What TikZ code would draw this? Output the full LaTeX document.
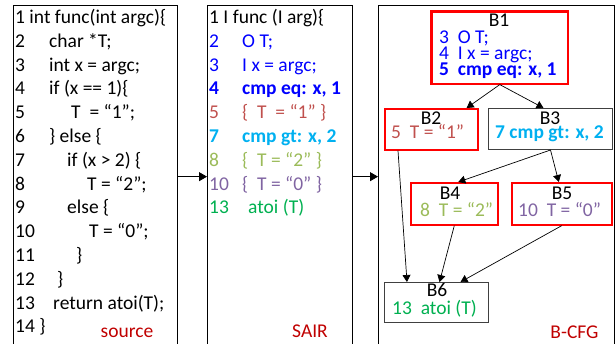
\documentclass[tikz,border=0pt]{standalone}
\usepackage{fontspec}
\setmainfont{Carlito}
\usetikzlibrary{arrows.meta,calc}
\definecolor{cblue}{RGB}{0,0,255}
\definecolor{cred}{RGB}{255,0,0}
\definecolor{cbrown}{RGB}{192,80,77}
\definecolor{ccyan}{RGB}{0,176,240}
\definecolor{colive}{RGB}{155,187,89}
\definecolor{cpurple}{RGB}{128,100,162}
\definecolor{cgreen}{RGB}{0,176,80}
\definecolor{cdred}{RGB}{192,0,0}
\begin{document}
\begin{tikzpicture}[x=1pt,y=-1pt,
  font=\fontsize{19.5}{23}\selectfont,
  txt/.style={inner sep=0pt, anchor=base west},
  ttl/.style={inner sep=0pt, anchor=base},
  panel/.style={draw=black, line width=1.3pt, anchor=north west, inner sep=0pt},
  blk/.style={draw=cred, line width=1.6pt, anchor=north west, inner sep=0pt},
  blkk/.style={draw=black!75, line width=1pt, anchor=north west, inner sep=0pt},
  redframe/.style={draw=cred, line width=1.6pt},
  arr/.style={-{Triangle[length=8pt,width=9pt]}, line width=0.9pt},
  carr/.style={-{Triangle[length=7pt,width=8pt]}, line width=0.7pt}]
\useasboundingbox (0,0) rectangle (616,343);

% panels
\node[panel, minimum width=164pt, minimum height=342pt] (src) at (13,5) {};
\node[panel, minimum width=145pt, minimum height=342pt] (sair) at (207,5) {};
\node[panel, minimum width=236pt, minimum height=342pt] (cfg) at (378,5) {};
\draw[arr] (src.east) -- (sair.west);
\draw[arr] (sair.east) -- (cfg.west);

% B-CFG blocks
\node[blk, minimum width=136pt, minimum height=72pt] (B1) at (431,11) {};
\node[blk, minimum width=93pt, minimum height=41pt] (B2) at (384,108) {};
\node[blkk, minimum width=124pt, minimum height=41pt] (B3) at (488,108) {};
\node[blk, minimum width=87pt, minimum height=42pt] (B4) at (410,182) {};
\node[blk, minimum width=100pt, minimum height=42pt] (B5) at (511,182) {};
\node[blkk, minimum width=104pt, minimum height=40pt] (B6) at (384,282) {};
\draw[redframe] (B1.north west) rectangle (B1.south east);

% CFG edges
\draw[carr] (B1.south) -- ([xshift=-12pt]B2.north east);
\draw[carr] (B1.south) -- ([xshift=-7pt]B3.north);
\draw[carr] (B3.south) -- ([xshift=4pt]B4.north);
\draw[carr] (B3.south) -- ([xshift=-3pt]B5.north);
\draw[carr] ([xshift=14pt]B2.south west) -- ([xshift=23pt]B6.north west);
\draw[carr] (B4.south) -- ([xshift=3pt]B6.north);
\draw[carr] (B5.south) -- ([xshift=24pt]B6.north);

% source code
\node[txt] (s1) at (15,23.5) {1 int func(int argc)\{};
\node[txt] (s2n) at (15,47.3) {2};   \node[txt] (s2) at (49,47.3) {char *T;};
\node[txt] (s3n) at (15,71.1) {3};   \node[txt] (s3) at (49,71.1) {int x = argc;};
\node[txt] (s4n) at (15,94.9) {4};   \node[txt] (s4) at (49,94.9) {if (x == 1)\{};
\node[txt] (s5n) at (15,118.7) {5};  \node[txt] (s5) at (71,118.7) {T~~= “1”;};
\node[txt] (s6n) at (15,142.5) {6};  \node[txt] (s6) at (49,142.5) {\} else \{};
\node[txt] (s7n) at (15,166.3) {7};  \node[txt] (s7) at (67,166.3) {if (x > 2) \{};
\node[txt] (s8n) at (15,190.1) {8};  \node[txt] (s8) at (87,190.1) {T = “2”;};
\node[txt] (s9n) at (15,213.9) {9};  \node[txt] (s9) at (67,213.9) {else \{};
\node[txt] (s10n) at (15,237.7) {10}; \node[txt] (s10) at (89,237.7) {T = “0”;};
\node[txt] (s11n) at (15,261.5) {11}; \node[txt] (s11) at (76,261.5) {\}};
\node[txt] (s12n) at (15,285.3) {12}; \node[txt] (s12) at (57,285.3) {\}};
\node[txt] (s13n) at (15,309.1) {13}; \node[txt] (s13) at (53,309.1) {return atoi(T);};
\node[txt] (s14) at (15,332.9) {14 \}};
\node[ttl, text=cdred] (srclab) at (127,337) {source};

% SAIR
\node[txt] (a1) at (209,23.5) {1 I func (I arg)\{};
\node[txt, text=cblue] (a2n) at (209,47.3) {2};  \node[txt, text=cblue] (a2) at (242,47.3) {O T;};
\node[txt, text=cblue] (a3n) at (209,71.1) {3};  \node[txt, text=cblue] (a3) at (242,71.1) {I x = argc;};
\node[txt, text=cblue, font=\fontsize{19.5}{23}\selectfont\bfseries] (a4n) at (209,94.9) {4};
\node[txt, text=cblue, font=\fontsize{19.5}{23}\selectfont\bfseries] (a4) at (242,94.9) {cmp eq: x, 1};
\node[txt, text=cbrown] (a5n) at (209,118.7) {5};  \node[txt, text=cbrown] (a5) at (242,118.7) {\{~~T~~= “1” \}};
\node[txt, text=ccyan, font=\fontsize{19.5}{23}\selectfont\bfseries] (a7n) at (209,142.5) {7};
\node[txt, text=ccyan, font=\fontsize{19.5}{23}\selectfont\bfseries] (a7) at (242,142.5) {cmp gt: x, 2};
\node[txt, text=colive] (a8n) at (209,166.3) {8};  \node[txt, text=colive] (a8) at (242,166.3) {\{~~T = “2” \}};
\node[txt, text=cpurple] (a10n) at (209,190.1) {10}; \node[txt, text=cpurple] (a10) at (242,190.1) {\{~~T = “0” \}};
\node[txt, text=cgreen] (a13n) at (209,213.9) {13}; \node[txt, text=cgreen] (a13) at (248,213.9) {atoi (T)};
\node[ttl, text=cdred] (sairlab) at (310,337) {SAIR};

% B-CFG texts
\node[ttl] (t1) at (499,26) {B1};
\node[txt, text=cblue] (b1a) at (439,43) {3~~O T;};
\node[txt, text=cblue] (b1b) at (439,59) {4~~I x = argc;};
\node[txt, text=cblue, font=\fontsize{19.5}{23}\selectfont\bfseries] (b1c) at (439,75) {5~~cmp eq: x, 1};
\node[ttl] (t2) at (431,124) {B2};
\node[txt, text=cbrown] (b2a) at (391,138) {5~~T = “1”};
\node[ttl] (t3) at (550,124) {B3};
\node[txt, text=ccyan, font=\fontsize{19.5}{23}\selectfont\bfseries] (b3a) at (495,138) {7 cmp gt: x, 2};
\node[ttl] (t4) at (450,199) {B4};
\node[txt, text=colive] (b4a) at (420,216.5) {8~~T = “2”};
\node[ttl] (t5) at (562,199) {B5};
\node[txt, text=cpurple] (b5a) at (518,216.5) {10~~T = “0”};
\node[ttl] (t6) at (437,296) {B6};
\node[txt, text=cgreen] (b6a) at (392,314) {13~~atoi (T)};
\node[ttl, text=cdred] (cfglab) at (574.5,338) {B-CFG};
\end{tikzpicture}
\end{document}
